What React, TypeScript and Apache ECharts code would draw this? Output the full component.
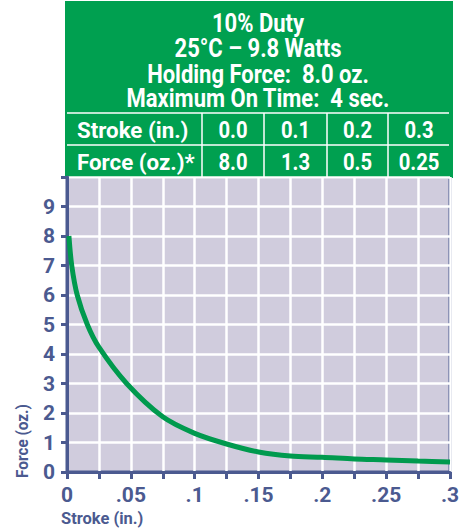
import React, { useEffect, useRef } from "react";
import * as echarts from "echarts";

const titleLines = ["10% Duty", "25°C – 9.8 Watts", "Holding Force:  8.0 oz.", "Maximum On Time:  4 sec."];
const tableRowLabels = ["Stroke (in.)", "Force (oz.)*"];
const strokeCells = ["0.0", "0.1", "0.2", "0.3"];
const forceCells = ["8.0", "1.3", "0.5", "0.25"];

const strokeValues = [0.0015, 0.0037, 0.008, 0.0159, 0.025, 0.0467, 0.075, 0.1, 0.125, 0.15, 0.175, 0.2, 0.225, 0.25, 0.275, 0.3];
const forceValues = [8.0, 7.0, 6.0, 5.0, 4.23, 3.0, 1.87, 1.31, 0.95, 0.68, 0.54, 0.5, 0.44, 0.41, 0.37, 0.34];

const GREEN = "#00A050";
const BLUE = "#4B5A90";
const BG = "#D0CCDD";
const FONT = "Roboto, 'Liberation Sans', sans-serif";

export default function App() {
  const ref = useRef<HTMLDivElement>(null);
  useEffect(() => {
    if (!ref.current) return;
    const chart = echarts.init(ref.current, undefined, { renderer: "svg" });
    const titleYs = [24, 49, 75, 99];
    const colX = [202, 264, 327, 388, 450];
    const graphics: any[] = [
      { type: "rect", shape: { x: 65, y: 1, width: 388, height: 177 }, style: { fill: GREEN }, z: 0 },
    ];
    titleLines.forEach((t, i) => {
      graphics.push({
        type: "text", x: 258, y: titleYs[i], scaleX: 0.88,
        style: { text: t, fill: "#fff", font: `bold 25px ${FONT}`, textAlign: "center", textVerticalAlign: "middle" },
      });
    });
    [113, 145].forEach((y) => {
      graphics.push({ type: "line", shape: { x1: 67, y1: y, x2: 449, y2: y }, style: { stroke: "#fff", lineWidth: 1.5 } });
    });
    colX.slice(0, 4).forEach((x) => {
      graphics.push({ type: "line", shape: { x1: x, y1: 113, x2: x, y2: 177 }, style: { stroke: "#fff", lineWidth: 1.5 } });
    });
    const rowYs = [130, 162];
    tableRowLabels.forEach((t, i) => {
      graphics.push({
        type: "text", x: 77, y: rowYs[i], scaleX: 0.97,
        style: { text: t, fill: "#fff", font: `bold 23px ${FONT}`, textAlign: "left", textVerticalAlign: "middle" },
      });
    });
    [strokeCells, forceCells].forEach((cells, r) => {
      cells.forEach((t, i) => {
        graphics.push({
          type: "text", x: (colX[i] + colX[i + 1]) / 2, y: rowYs[r], scaleX: 0.88,
          style: { text: t, fill: "#fff", font: `bold 23px ${FONT}`, textAlign: "center", textVerticalAlign: "middle" },
        });
      });
    });
    graphics.push({
      type: "text", x: 22, y: 441, rotation: Math.PI / 2, scaleX: 0.9,
      style: { text: "Force (oz.)", fill: BLUE, font: `bold 17px ${FONT}`, textAlign: "center", textVerticalAlign: "middle" },
    });
    graphics.push({
      type: "text", x: 61, y: 518, scaleX: 0.97,
      style: { text: "Stroke (in.)", fill: BLUE, font: `bold 17px ${FONT}`, textAlign: "left", textVerticalAlign: "middle" },
    });

    chart.setOption({
      animation: false,
      graphic: { elements: graphics },
      grid: {
        left: 67, right: 23, top: 177, bottom: 59,
        show: true, backgroundColor: BG, borderColor: BLUE, borderWidth: 3,
      },
      xAxis: {
        type: "value", min: 0, max: 0.3, interval: 0.025,
        axisLine: { show: true, lineStyle: { color: BLUE, width: 3 } },
        axisTick: { show: true, length: 7, lineStyle: { color: BLUE, width: 3 } },
        splitLine: { show: true, lineStyle: { color: "#fff", width: 2.5 } },
        axisLabel: {
          color: BLUE, fontFamily: FONT, fontWeight: "bold", fontSize: 21, margin: 12,
          showMaxLabel: true, showMinLabel: true, hideOverlap: false,
          formatter: (v: number) => {
            const k = Math.round(v * 1000);
            if (k % 50 !== 0) return "";
            if (k === 0) return "0";
            return (k / 1000).toString().replace(/^0/, "");
          },
        },
      },
      yAxis: {
        type: "value", min: 0, max: 10, interval: 1,
        axisLine: { show: true, lineStyle: { color: BLUE, width: 3 } },
        axisTick: {
          show: true, length: 6, lineStyle: { color: BLUE, width: 3 },
          interval: (_i: number, v: any) => { const n = Number(v); return n !== 0 && n !== 8 && n !== 10; },
        },
        splitLine: { show: true, lineStyle: { color: "#fff", width: 2.5 } },
        axisLabel: {
          color: BLUE, fontFamily: FONT, fontWeight: "bold", fontSize: 21, margin: 12,
          formatter: (v: number) => (v >= 10 ? "" : String(v)),
        },
      },
      series: [
        {
          type: "line",
          data: strokeValues.map((x, i) => [x, forceValues[i]]),
          smooth: 0.3,
          symbol: "none",
          lineStyle: { color: "#009A4E", width: 5 },
          z: 5,
        },
      ],
    });
    return () => chart.dispose();
  }, []);
  return <div ref={ref} style={{ width: 473, height: 531, position: "absolute", left: 0, top: 0 }} />;
}
